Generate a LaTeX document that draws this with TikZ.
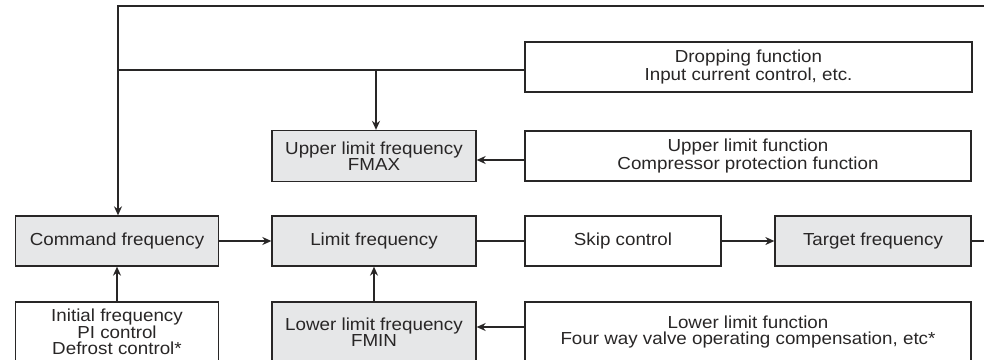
\documentclass[tikz,border=0pt]{standalone}
\usepackage{fontspec}
\setmainfont{Liberation Sans}[FakeStretch=1.08]
\usetikzlibrary{arrows.meta,calc}
\definecolor{lc}{RGB}{40,38,38}
\definecolor{gf}{RGB}{230,231,232}
\begin{document}
\begin{tikzpicture}[x=1pt,y=-1pt,
  box/.style={draw=lc, line width=1.3pt, inner sep=0pt, align=center,
    font=\fontsize{17.4}{16}\selectfont, text=lc},
  gbox/.style={box, fill=gf},
  conn/.style={draw=lc, line width=1.3pt},
  arr/.style={conn, -{Stealth[length=9pt,width=8pt]}}]
\path[use as bounding box, clip] (0,0) rectangle (984,359);
% nodes
\node[gbox, minimum width=203pt, minimum height=50pt] (cmd) at (117,241) {Command frequency};
\node[gbox, minimum width=204pt, minimum height=50pt] (lim) at (374,241) {Limit frequency};
\node[box, minimum width=196pt, minimum height=50pt] (skip) at (623,241) {Skip control};
\node[gbox, minimum width=196pt, minimum height=50pt] (tgt) at (873,241) {Target frequency};
\node[gbox, minimum width=204pt, minimum height=51pt] (upper) at (374,156) {Upper limit frequency\\FMAX};
\node[box, minimum width=446pt, minimum height=50pt] (upfun) at (748,156) {Upper limit function\\Compressor protection function};
\node[box, minimum width=447pt, minimum height=50pt] (drop) at (748.5,67) {Dropping function\\Input current control, etc.};
\node[box, minimum width=203pt, minimum height=60pt] (init) at (117,332) {Initial frequency\\PI control\\Defrost control*};
\node[gbox, minimum width=204pt, minimum height=60pt] (lower) at (374,332) {Lower limit frequency\\FMIN};
\node[box, minimum width=446pt, minimum height=60pt] (lowfun) at (748,332) {Lower limit function\\Four way valve operating compensation, etc*};
% coordinates
\coordinate (tr) at (990,6);
\coordinate (tl) at (118,6);
\coordinate (jn) at (118,70);
\coordinate (ju) at (376,70);
\coordinate (tout) at (990,241);
% connectors
\draw[arr] (tr) -- (tl) -- (cmd.north -| tl);
\draw[conn] ([yshift=-3pt]drop.west) -- (jn);
\draw[arr] (ju) -- (upper.north -| ju);
\draw[arr] ([yshift=-4pt]upfun.west) -- ([yshift=-4pt]upper.east);
\draw[arr] (cmd.east) -- (lim.west);
\draw[conn] (lim.east) -- (skip.west);
\draw[arr] (skip.east) -- (tgt.west);
\draw[conn] (tgt.east) -- (tout);
\draw[arr] (init.north) -- (cmd.south);
\draw[arr] (lower.north) -- (lim.south);
\draw[arr] ([yshift=5pt]lowfun.west) -- ([yshift=5pt]lower.east);
\end{tikzpicture}
\end{document}
